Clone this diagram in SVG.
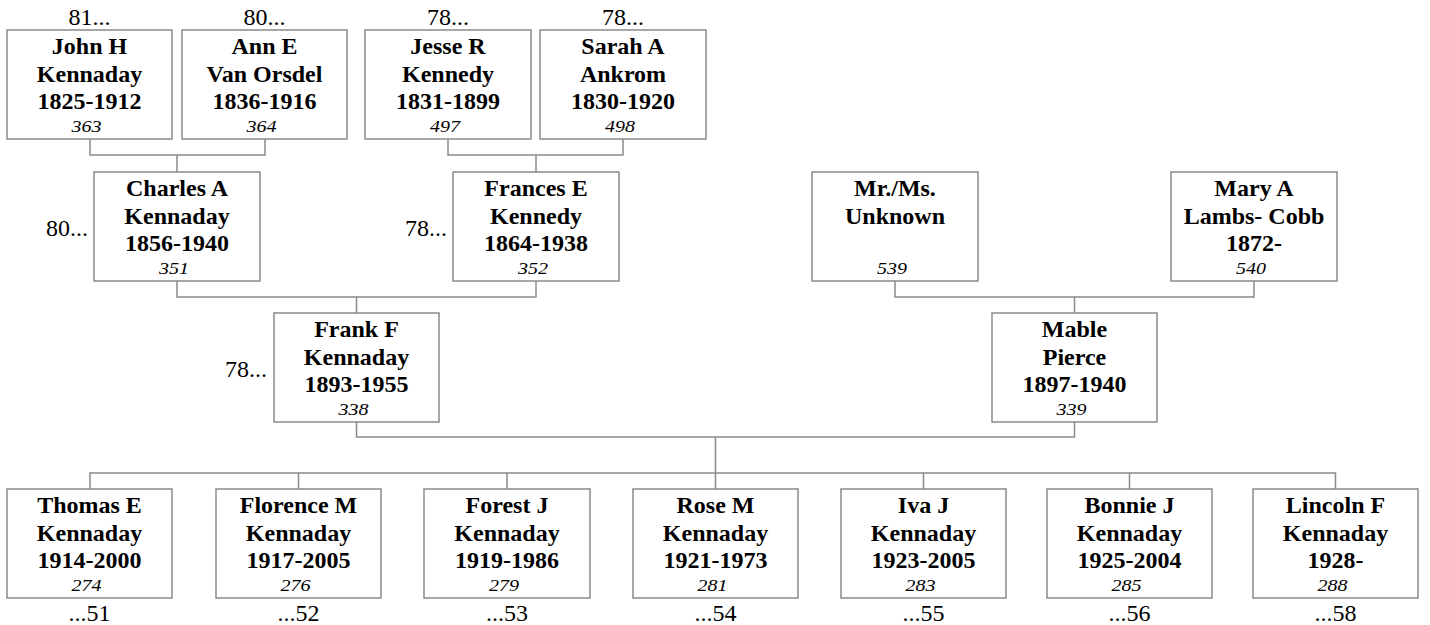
<svg xmlns="http://www.w3.org/2000/svg" width="1430" height="625" viewBox="0 0 1430 625">
<style>
  .box{fill:#fff;stroke:#8a8a8a;stroke-width:1.5}
  .ln{fill:none;stroke:#8a8a8a;stroke-width:1.5}
  text{font-family:"Liberation Serif","Times New Roman",serif;fill:#000}
  .nm{font-weight:bold;font-size:24px;text-anchor:middle}
  .id{font-style:italic;font-size:17px;text-anchor:middle}
  .lb{font-size:24px}
  .c{text-anchor:middle}
  .r{text-anchor:end}
</style>
<g id="connectors">
  <path class="ln" d="M90,139V155H265V139M177,155V172"/>
  <path class="ln" d="M448,139V155H623V139M536,155V172"/>
  <path class="ln" d="M177,281V297H536V281M356.5,297V313"/>
  <path class="ln" d="M895,281V297H1254V281M1074.5,297V313"/>
  <path class="ln" d="M356.5,422V437H1074.5V422M715.5,437V473"/>
  <path class="ln" d="M90,489V473H1335.5V489M298.5,473V489M507,473V489M715.5,473V489M923.5,473V489M1129.5,473V489"/>
</g>
<g id="n363"><rect class="box" x="7" y="30" width="165" height="109"/><text class="lb c" x="89.5" y="25">81...</text><text class="nm" x="89.5" y="54">John H</text><text class="nm" x="89.5" y="81.5">Kennaday</text><text class="nm" x="89.5" y="108.5">1825-1912</text><text class="id" x="86.5" y="132" textLength="30" lengthAdjust="spacingAndGlyphs">363</text></g>
<g id="n364"><rect class="box" x="182" y="30" width="165" height="109"/><text class="lb c" x="264.5" y="25">80...</text><text class="nm" x="264.5" y="54">Ann E</text><text class="nm" x="264.5" y="81.5">Van Orsdel</text><text class="nm" x="264.5" y="108.5">1836-1916</text><text class="id" x="261.5" y="132" textLength="30" lengthAdjust="spacingAndGlyphs">364</text></g>
<g id="n497"><rect class="box" x="365" y="30" width="166" height="109"/><text class="lb c" x="448" y="25">78...</text><text class="nm" x="448" y="54">Jesse R</text><text class="nm" x="448" y="81.5">Kennedy</text><text class="nm" x="448" y="108.5">1831-1899</text><text class="id" x="445" y="132" textLength="30" lengthAdjust="spacingAndGlyphs">497</text></g>
<g id="n498"><rect class="box" x="540" y="30" width="166" height="109"/><text class="lb c" x="623" y="25">78...</text><text class="nm" x="623" y="54">Sarah A</text><text class="nm" x="623" y="81.5">Ankrom</text><text class="nm" x="623" y="108.5">1830-1920</text><text class="id" x="620" y="132" textLength="30" lengthAdjust="spacingAndGlyphs">498</text></g>
<g id="n351"><rect class="box" x="94" y="172" width="166" height="109"/><text class="lb r" x="88" y="236">80...</text><text class="nm" x="177" y="196">Charles A</text><text class="nm" x="177" y="223.5">Kennaday</text><text class="nm" x="177" y="250.5">1856-1940</text><text class="id" x="174" y="274" textLength="30" lengthAdjust="spacingAndGlyphs">351</text></g>
<g id="n352"><rect class="box" x="453" y="172" width="166" height="109"/><text class="lb r" x="447" y="236">78...</text><text class="nm" x="536" y="196">Frances E</text><text class="nm" x="536" y="223.5">Kennedy</text><text class="nm" x="536" y="250.5">1864-1938</text><text class="id" x="533" y="274" textLength="30" lengthAdjust="spacingAndGlyphs">352</text></g>
<g id="n539"><rect class="box" x="812" y="172" width="166" height="109"/><text class="nm" x="895" y="196">Mr./Ms.</text><text class="nm" x="895" y="223.5">Unknown</text><text class="id" x="892" y="274" textLength="30" lengthAdjust="spacingAndGlyphs">539</text></g>
<g id="n540"><rect class="box" x="1171" y="172" width="166" height="109"/><text class="nm" x="1254" y="196">Mary A</text><text class="nm" x="1254" y="223.5">Lambs- Cobb</text><text class="nm" x="1254" y="250.5">1872-</text><text class="id" x="1251" y="274" textLength="30" lengthAdjust="spacingAndGlyphs">540</text></g>
<g id="n338"><rect class="box" x="274" y="313" width="165" height="109"/><text class="lb r" x="267" y="377">78...</text><text class="nm" x="356.5" y="337">Frank F</text><text class="nm" x="356.5" y="364.5">Kennaday</text><text class="nm" x="356.5" y="391.5">1893-1955</text><text class="id" x="353.5" y="415" textLength="30" lengthAdjust="spacingAndGlyphs">338</text></g>
<g id="n339"><rect class="box" x="992" y="313" width="165" height="109"/><text class="nm" x="1074.5" y="337">Mable</text><text class="nm" x="1074.5" y="364.5">Pierce</text><text class="nm" x="1074.5" y="391.5">1897-1940</text><text class="id" x="1071.5" y="415" textLength="30" lengthAdjust="spacingAndGlyphs">339</text></g>
<g id="n274"><rect class="box" x="7" y="489" width="165" height="109"/><text class="nm" x="89.5" y="513">Thomas E</text><text class="nm" x="89.5" y="540.5">Kennaday</text><text class="nm" x="89.5" y="567.5">1914-2000</text><text class="id" x="86.5" y="591" textLength="30" lengthAdjust="spacingAndGlyphs">274</text><text class="lb c" x="89.5" y="621">...51</text></g>
<g id="n276"><rect class="box" x="216" y="489" width="165" height="109"/><text class="nm" x="298.5" y="513">Florence M</text><text class="nm" x="298.5" y="540.5">Kennaday</text><text class="nm" x="298.5" y="567.5">1917-2005</text><text class="id" x="295.5" y="591" textLength="30" lengthAdjust="spacingAndGlyphs">276</text><text class="lb c" x="298.5" y="621">...52</text></g>
<g id="n279"><rect class="box" x="424" y="489" width="166" height="109"/><text class="nm" x="507" y="513">Forest J</text><text class="nm" x="507" y="540.5">Kennaday</text><text class="nm" x="507" y="567.5">1919-1986</text><text class="id" x="504" y="591" textLength="30" lengthAdjust="spacingAndGlyphs">279</text><text class="lb c" x="507" y="621">...53</text></g>
<g id="n281"><rect class="box" x="633" y="489" width="165" height="109"/><text class="nm" x="715.5" y="513">Rose M</text><text class="nm" x="715.5" y="540.5">Kennaday</text><text class="nm" x="715.5" y="567.5">1921-1973</text><text class="id" x="712.5" y="591" textLength="30" lengthAdjust="spacingAndGlyphs">281</text><text class="lb c" x="715.5" y="621">...54</text></g>
<g id="n283"><rect class="box" x="841" y="489" width="165" height="109"/><text class="nm" x="923.5" y="513">Iva J</text><text class="nm" x="923.5" y="540.5">Kennaday</text><text class="nm" x="923.5" y="567.5">1923-2005</text><text class="id" x="920.5" y="591" textLength="30" lengthAdjust="spacingAndGlyphs">283</text><text class="lb c" x="923.5" y="621">...55</text></g>
<g id="n285"><rect class="box" x="1047" y="489" width="165" height="109"/><text class="nm" x="1129.5" y="513">Bonnie J</text><text class="nm" x="1129.5" y="540.5">Kennaday</text><text class="nm" x="1129.5" y="567.5">1925-2004</text><text class="id" x="1126.5" y="591" textLength="30" lengthAdjust="spacingAndGlyphs">285</text><text class="lb c" x="1129.5" y="621">...56</text></g>
<g id="n288"><rect class="box" x="1253" y="489" width="165" height="109"/><text class="nm" x="1335.5" y="513">Lincoln F</text><text class="nm" x="1335.5" y="540.5">Kennaday</text><text class="nm" x="1335.5" y="567.5">1928-</text><text class="id" x="1332.5" y="591" textLength="30" lengthAdjust="spacingAndGlyphs">288</text><text class="lb c" x="1335.5" y="621">...58</text></g>
</svg>
